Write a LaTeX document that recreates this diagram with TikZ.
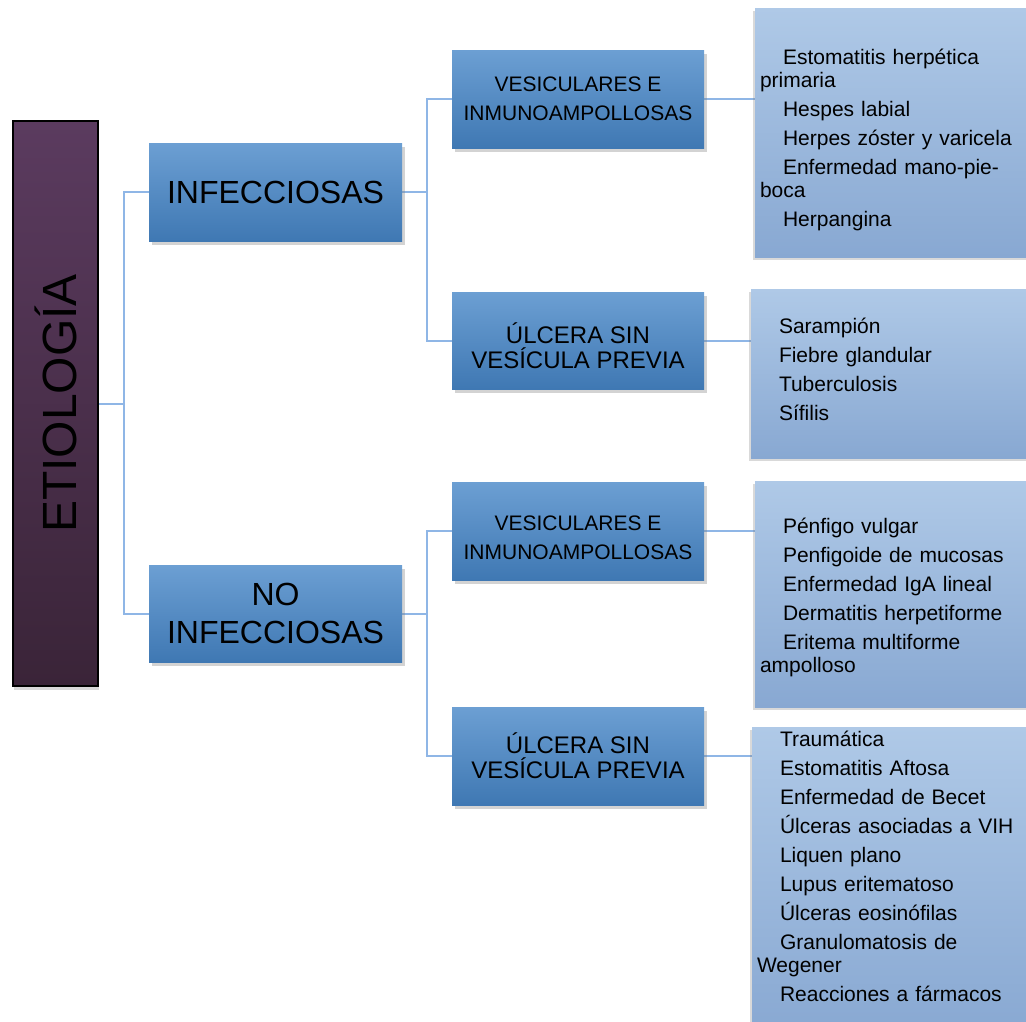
\documentclass[tikz,border=0pt]{standalone}
\usepackage{fontspec}
\setmainfont{Liberation Sans}
\usetikzlibrary{shadows,backgrounds}

\definecolor{etiotop}{HTML}{5B3B5F}
\definecolor{etiobot}{HTML}{3A2438}
\definecolor{boxtop}{HTML}{6C9FD3}
\definecolor{boxbot}{HTML}{3F78B3}
\definecolor{leaftop}{HTML}{AFC9E7}
\definecolor{leafbot}{HTML}{88A8D2}
\definecolor{linkblue}{HTML}{8FB6E6}

\newcommand{\lind}{\hspace*{23pt}}
\newcommand{\topgap}[1]{\rule{0pt}{#1}}

\begin{document}
\begin{tikzpicture}[
    x=1pt, y=-1pt,
    root/.style ={draw=black, line width=1.2pt, top color=etiotop, bottom color=etiobot,
                  minimum width=85pt, minimum height=565pt, inner sep=0pt,
                  drop shadow={shadow xshift=1pt, shadow yshift=-4pt, opacity=.3},
                  font=\fontsize{48}{50}\selectfont},
    cat/.style  ={top color=boxtop, bottom color=boxbot, align=center,
                  minimum width=253pt, minimum height=98pt,
                  drop shadow={shadow xshift=3pt, shadow yshift=-4pt, opacity=.35},
                  font=\fontsize{32}{38}\selectfont},
    sub/.style  ={cat, minimum width=252pt, font=\fontsize{21}{29}\selectfont},
    subu/.style ={sub, font=\fontsize{24}{25}\selectfont},
    leaf/.style ={top color=leaftop, bottom color=leafbot, align=left,
                  inner xsep=5pt, text width=268pt,
                  drop shadow={shadow xshift=-2pt, shadow yshift=-3pt, opacity=.3},
                  font=\fontsize{21}{23}\selectfont},
    link/.style ={draw=linkblue, line width=2pt},
  ]
  \useasboundingbox (0,0) rectangle (1026,1021);

  % -------------------------------------------------------------- root ---
  \node[root] (etio) at (55.5,403.5) {\rotatebox{90}{ETIOLOGÍA}};

  % -------------------------------------------------------- categories ---
  \node[cat] (inf)   at (275.5,192)   {INFECCIOSAS};
  \node[cat, minimum height=97pt] (noinf) at (275.5,613.5) {NO\\INFECCIOSAS};

  % ------------------------------------------------------ subcategories ---
  \node[sub]  (ves1) at (578,99)    {VESICULARES E\\INMUNOAMPOLLOSAS};
  \node[subu, minimum height=97pt] (ulc1) at (578,340.5)
        {\topgap{32pt}ÚLCERA SIN\\VESÍCULA PREVIA};
  \node[sub]  (ves2) at (578,531)   {\topgap{28pt}VESICULARES E\\INMUNOAMPOLLOSAS};
  \node[subu] (ulc2) at (578,756)   {ÚLCERA SIN\\VESÍCULA PREVIA};

  % ------------------------------------------------------------ leaves ---
  \node[leaf, minimum height=249pt] (leaf1) at (894,132.5)
        {\topgap{31pt}\lind Estomatitis herpética\\primaria\\[6pt]
         \lind Hespes labial\\[6pt]
         \lind Herpes zóster y varicela\\[6pt]
         \lind Enfermedad mano-pie-\\boca\\[6pt]
         \lind Herpangina};
  \node[leaf, minimum height=169pt] (leaf2) at (890,373.5)
        {\lind Sarampión\\[6pt]
         \lind Fiebre glandular\\[6pt]
         \lind Tuberculosis\\[6pt]
         \lind Sífilis\\[-15pt]\mbox{}};
  \node[leaf, minimum height=226pt] (leaf3) at (894,594)
        {\topgap{23pt}\lind Pénfigo vulgar\\[6pt]
         \lind Penfigoide de mucosas\\[6pt]
         \lind Enfermedad IgA lineal\\[6pt]
         \lind Dermatitis herpetiforme\\[6pt]
         \lind Eritema multiforme\\ampolloso};
  \node[leaf, minimum height=308pt] (leaf4) at (891,881)
        {\lind Traumática\\[6pt]
         \lind Estomatitis Aftosa\\[6pt]
         \lind Enfermedad de Becet\\[6pt]
         \lind Úlceras asociadas a VIH\\[6pt]
         \lind Liquen plano\\[6pt]
         \lind Lupus eritematoso\\[6pt]
         \lind Úlceras eosinófilas\\[6pt]
         \lind Granulomatosis de\\Wegener\\[6pt]
         \lind Reacciones a fármacos\\[6pt]\mbox{}};

  % ------------------------------------------------------------- links ---
  \begin{scope}[on background layer]
    \draw[link] (etio.east) -- ++(25,0) |- (inf.west);
    \draw[link] (etio.east) -- ++(25,0) |- (noinf.west);
    \draw[link] (inf.east) -- ++(25,0) |- (ves1.west);
    \draw[link] (inf.east) -- ++(25,0) |- (ulc1.west);
    \draw[link] (noinf.east) -- ++(25,0) |- (ves2.west);
    \draw[link] (noinf.east) -- ++(25,0) |- (ulc2.west);
    \draw[link] (ves1.east) -- (ves1.east -| leaf1.west);
    \draw[link] (ulc1.east) -- (ulc1.east -| leaf2.west);
    \draw[link] (ves2.east) -- (ves2.east -| leaf3.west);
    \draw[link] (ulc2.east) -- (ulc2.east -| leaf4.west);
  \end{scope}

\end{tikzpicture}
\end{document}
